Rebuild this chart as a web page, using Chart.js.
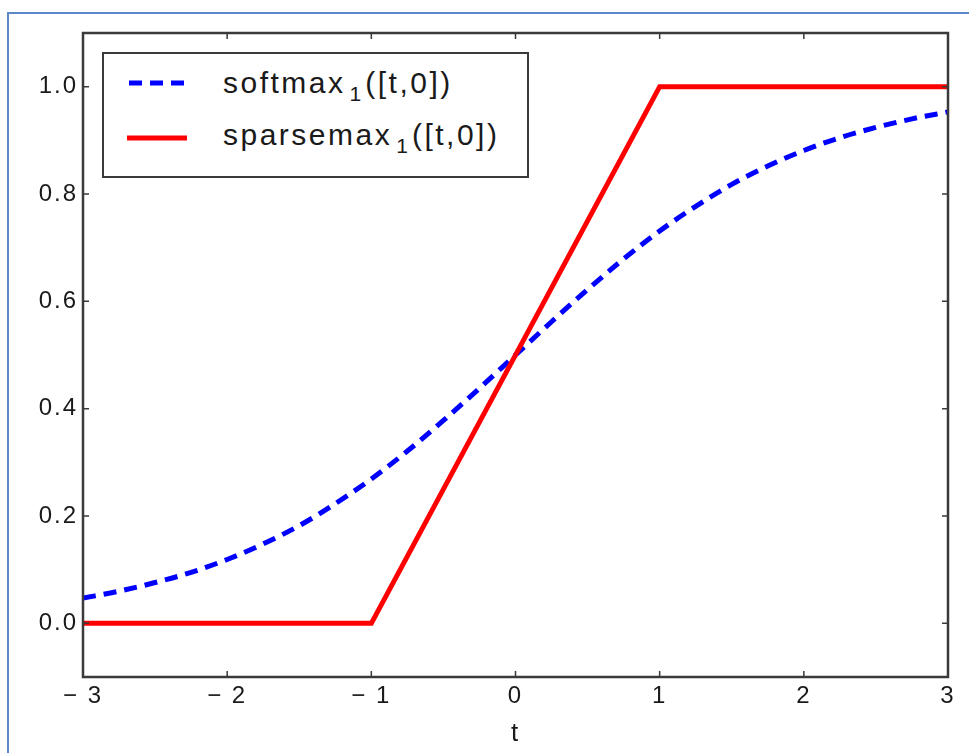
<!DOCTYPE html>
<html>
<head>
<meta charset="utf-8">
<script src="https://cdn.jsdelivr.net/npm/chart.js@4"></script>
<style>
    body { margin: 0; background: #fff; }
    #wrap { position: relative; width: 969px; height: 753px; overflow: hidden; }
    #frame { position: absolute; left: 7px; top: 12px; width: 990px; height: 780px; border: 2px solid #5a88c8; }
    #myChart { position: absolute; left: 0; top: 0; }
    #legend { position: absolute; left: 102px; top: 52px; width: 423px; height: 122px; border: 2px solid #3a3a3a; background: #fff;
              font-family: "Liberation Sans", Arial, sans-serif; font-size: 30px; color: #1a1a1a; letter-spacing: 2.5px; }
    .row { position: absolute; left: 0; height: 44px; }
    .row svg { position: absolute; left: 22px; top: 0; }
    .row span { position: absolute; left: 119px; top: 0; white-space: nowrap; }
    .row sub { font-size: 21px; vertical-align: -8px; letter-spacing: 0; margin-left: 4px; margin-right: 4px; }
</style>
</head>
<body>
<div id="wrap">
    <div id="frame"></div>
    <canvas id="myChart" width="969" height="753"></canvas>
    <div id="legend"></div>
</div>
<script>
// softmax curve
const tValues = [-3, -2.75, -2.5, -2.25, -2, -1.75, -1.5, -1.25, -1, -0.75, -0.5, -0.25, 0,
                 0.25, 0.5, 0.75, 1, 1.25, 1.5, 1.75, 2, 2.25, 2.5, 2.75, 3];
const softmaxValues = [0.047, 0.060, 0.076, 0.095, 0.119, 0.148, 0.182, 0.223, 0.269, 0.321, 0.378, 0.438, 0.5,
                       0.562, 0.622, 0.679, 0.731, 0.777, 0.818, 0.852, 0.881, 0.905, 0.924, 0.940, 0.953];
// sparsemax corners
const sparseT = [-3, -1, 1, 3];
const sparseValues = [0, 0, 1, 1];

const xTicks = [-3, -2, -1, 0, 1, 2, 3];
const yTicks = [0, 0.2, 0.4, 0.6, 0.8, 1.0];
const seriesNames = ['softmax', 'sparsemax'];

document.addEventListener('DOMContentLoaded', function() {
    const ctx = document.getElementById('myChart');

    // html legend so the subscript can be real text
    const legend = document.getElementById('legend');
    legend.innerHTML =
        '<div class="row" style="top:12px"><svg width="64" height="44"><line x1="3" y1="17" x2="61" y2="17" stroke="#0000ff" stroke-width="5" stroke-dasharray="13 8"/></svg>' +
        '<span>' + seriesNames[0] + '<sub>1</sub>([t,0])</span></div>' +
        '<div class="row" style="top:64px"><svg width="64" height="44"><line x1="1" y1="20" x2="61" y2="20" stroke="#ff0000" stroke-width="5"/></svg>' +
        '<span>' + seriesNames[1] + '<sub>1</sub>([t,0])</span></div>';

    const frameAndTicks = {
        id: 'frameAndTicks',
        beforeDraw(chart) {
            chart.ctx.letterSpacing = '2px';
        },
        afterDatasetsDraw(chart) {
            const c = chart.ctx;
            const a = chart.chartArea;
            const x = chart.scales.x, y = chart.scales.y;
            const len = 6;
            c.save();
            c.letterSpacing = '0px';
            c.strokeStyle = '#3a3a3a';
            c.lineWidth = 1.5;
            c.beginPath();
            x.ticks.forEach(function(t) {
                const px = x.getPixelForValue(t.value);
                c.moveTo(px, a.bottom); c.lineTo(px, a.bottom - len);
                c.moveTo(px, a.top); c.lineTo(px, a.top + len);
            });
            y.ticks.forEach(function(t) {
                const py = y.getPixelForValue(t.value);
                c.moveTo(a.left, py); c.lineTo(a.left + len, py);
                c.moveTo(a.right, py); c.lineTo(a.right - len, py);
            });
            c.stroke();
            c.lineWidth = 2.5;
            c.strokeRect(a.left, a.top, a.right - a.left, a.bottom - a.top);
            c.restore();
        }
    };

    new Chart(ctx, {
        type: 'line',
        data: {
            datasets: [{
                label: seriesNames[0],
                data: tValues.map((t, i) => ({x: t, y: softmaxValues[i]})),
                borderColor: '#0000ff',
                borderWidth: 5,
                borderDash: [13, 8],
                pointRadius: 0,
                cubicInterpolationMode: 'monotone',
                order: 1
            }, {
                label: seriesNames[1],
                data: sparseT.map((t, i) => ({x: t, y: sparseValues[i]})),
                borderColor: '#ff0000',
                borderWidth: 5,
                pointRadius: 0,
                tension: 0,
                order: 0
            }]
        },
        options: {
            responsive: false,
            animation: false,
            devicePixelRatio: 1,
            layout: { padding: { left: 0, top: 33, right: 21, bottom: 0 } },
            plugins: { legend: { display: false }, tooltip: { enabled: false } },
            scales: {
                x: {
                    type: 'linear',
                    min: -3,
                    max: 3,
                    afterBuildTicks: function(scale) { scale.ticks = xTicks.map(v => ({value: v})); },
                    afterFit: function(scale) { scale.height = 76; },
                    grid: { display: false, drawTicks: false },
                    border: { display: false },
                    ticks: {
                        maxRotation: 0,
                        padding: 5,
                        color: '#1a1a1a',
                        font: { family: 'Liberation Sans', size: 24 },
                        callback: v => v < 0 ? '\u2212 ' + Math.abs(v) : String(v)
                    },
                    title: {
                        display: true,
                        text: 't',
                        color: '#1a1a1a',
                        font: { family: 'Liberation Sans', size: 26 },
                        padding: { top: 0, bottom: 4 }
                    }
                },
                y: {
                    min: -0.1,
                    max: 1.1,
                    afterBuildTicks: function(scale) { scale.ticks = yTicks.map(v => ({value: v})); },
                    afterFit: function(scale) { scale.width = 83; },
                    grid: { display: false, drawTicks: false },
                    border: { display: false },
                    ticks: {
                        padding: 5,
                        color: '#1a1a1a',
                        font: { family: 'Liberation Sans', size: 24 },
                        callback: v => v.toFixed(1)
                    }
                }
            }
        },
        plugins: [frameAndTicks]
    });
});
</script>
</body>
</html>
